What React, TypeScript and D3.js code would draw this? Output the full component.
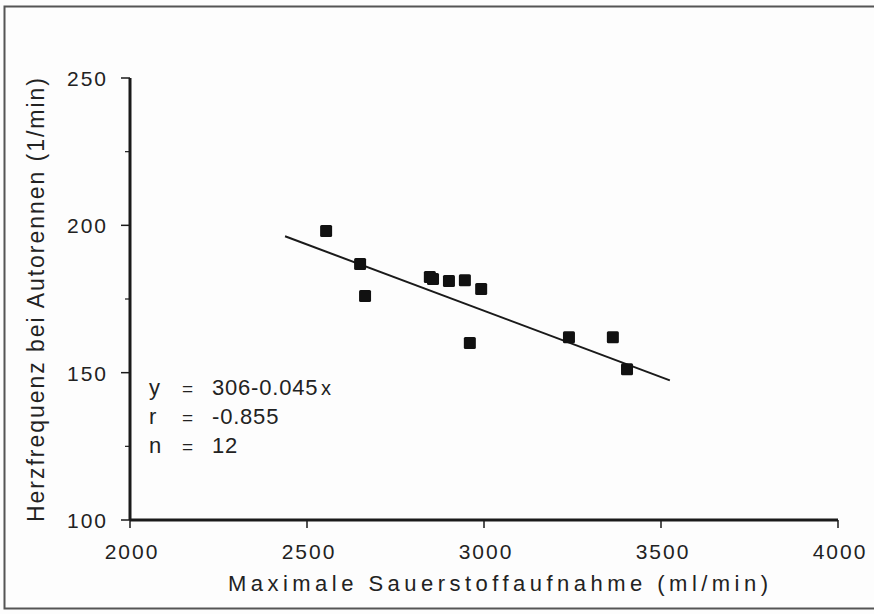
import React, { useEffect, useRef } from "react";
import * as d3 from "d3";

const oxygenUptake = [2554, 2650, 2664, 2847, 2856, 2901, 2946, 2992, 2960, 3240, 3364, 3404];
const heartRate = [198.1, 186.9, 176.0, 182.5, 181.8, 181.1, 181.4, 178.4, 160.1, 162.0, 162.0, 151.2];
const xTicks = [2000, 2500, 3000, 3500, 4000];
const yTicks = [100, 150, 200, 250];
const yMinorTicks = [125, 175, 225];
const fitRange = [2438, 3525];
const fitIntercept = 306;
const fitSlope = -0.045;
const statLabels = ["y", "r", "n"];
const statValues = ["306-0.045", "-0.855", "12"];
const xTitle = "Maximale Sauerstoffaufnahme (ml/min)";
const yTitle = "Herzfrequenz bei Autorennen (1/min)";

export default function App() {
  const ref = useRef<SVGSVGElement>(null);
  useEffect(() => {
    const svg = d3.select(ref.current);
    svg.selectAll("*").remove();
    const font = "'Liberation Sans', Arial, sans-serif";
    const ink = "#1a1a1a";
    const x = d3.scaleLinear().domain([2000, 4000]).range([130, 838]);
    const y = d3.scaleLinear().domain([100, 250]).range([520, 78]);

    svg.append("rect").attr("width", 874).attr("height", 614).attr("fill", "#fdfdfd");
    svg.append("rect").attr("x", 4.5).attr("y", 6.5).attr("width", 880).attr("height", 602)
      .attr("fill", "none").attr("stroke", "#555").attr("stroke-width", 2);

    const g = svg.append("g");
    g.append("line").attr("x1", x(2000)).attr("x2", x(2000)).attr("y1", y(250)).attr("y2", y(100))
      .attr("stroke", ink).attr("stroke-width", 3);
    g.append("line").attr("x1", x(2000)).attr("x2", x(4000)).attr("y1", y(100)).attr("y2", y(100))
      .attr("stroke", ink).attr("stroke-width", 3);

    yTicks.forEach((t) => {
      g.append("line").attr("x1", x(2000) - 9).attr("x2", x(2000)).attr("y1", y(t)).attr("y2", y(t))
        .attr("stroke", ink).attr("stroke-width", 1.5);
      g.append("text").attr("x", 108).attr("y", y(t) + 8).attr("text-anchor", "end")
        .attr("font-family", font).attr("font-size", 21).attr("letter-spacing", 2)
        .attr("fill", "#222").text(String(t));
    });
    yMinorTicks.forEach((t) => {
      g.append("line").attr("x1", x(2000) - 5).attr("x2", x(2000)).attr("y1", y(t)).attr("y2", y(t))
        .attr("stroke", ink).attr("stroke-width", 1.2);
    });
    xTicks.forEach((t) => {
      g.append("line").attr("x1", x(t)).attr("x2", x(t)).attr("y1", y(100)).attr("y2", y(100) + 8)
        .attr("stroke", ink).attr("stroke-width", 1.5);
      g.append("text").attr("x", x(t) + 2).attr("y", 559).attr("text-anchor", "middle")
        .attr("font-family", font).attr("font-size", 21).attr("letter-spacing", 2)
        .attr("fill", "#222").text(String(t));
    });

    svg.append("text").attr("x", 228).attr("y", 591).attr("textLength", 540)
      .attr("lengthAdjust", "spacing").attr("font-family", font).attr("font-size", 22)
      .attr("fill", "#222").text(xTitle);
    svg.append("text").attr("transform", `translate(44,522) rotate(-90)`).attr("x", 0).attr("y", 0)
      .attr("textLength", 444).attr("lengthAdjust", "spacing").attr("font-family", font)
      .attr("font-size", 23).attr("fill", "#222").text(yTitle);

    const line = d3.line<number>().x((d) => x(d)).y((d) => y(fitIntercept + fitSlope * d));
    svg.append("path").attr("d", line(fitRange) as string).attr("stroke", ink)
      .attr("stroke-width", 2).attr("fill", "none");

    const s = 12;
    svg.append("g").selectAll("rect").data(oxygenUptake).enter().append("rect")
      .attr("x", (d) => x(d) - s / 2).attr("y", (_d, i) => y(heartRate[i]) - s / 2)
      .attr("width", s).attr("height", s).attr("rx", 1.5).attr("fill", "#111");

    statLabels.forEach((lab, i) => {
      const by = 395 + i * 29;
      svg.append("text").attr("x", 149).attr("y", by).attr("font-family", font).attr("font-size", 22)
        .attr("fill", "#222").text(lab);
      svg.append("text").attr("x", 182).attr("y", by).attr("font-family", font).attr("font-size", 19)
        .attr("fill", "#222").text("=");
      svg.append("text").attr("x", 212).attr("y", by).attr("font-family", font).attr("font-size", 22)
        .attr("letter-spacing", 0.8).attr("fill", "#222").text(statValues[i]);
      if (i === 0) {
        svg.append("text").attr("x", 321).attr("y", by).attr("font-family", font).attr("font-size", 20)
          .attr("fill", "#222").text("x");
      }
    });
  }, []);
  return (
    <svg ref={ref} width={874} height={614}
      style={{ position: "absolute", left: 0, top: 0, display: "block" }} />
  );
}
